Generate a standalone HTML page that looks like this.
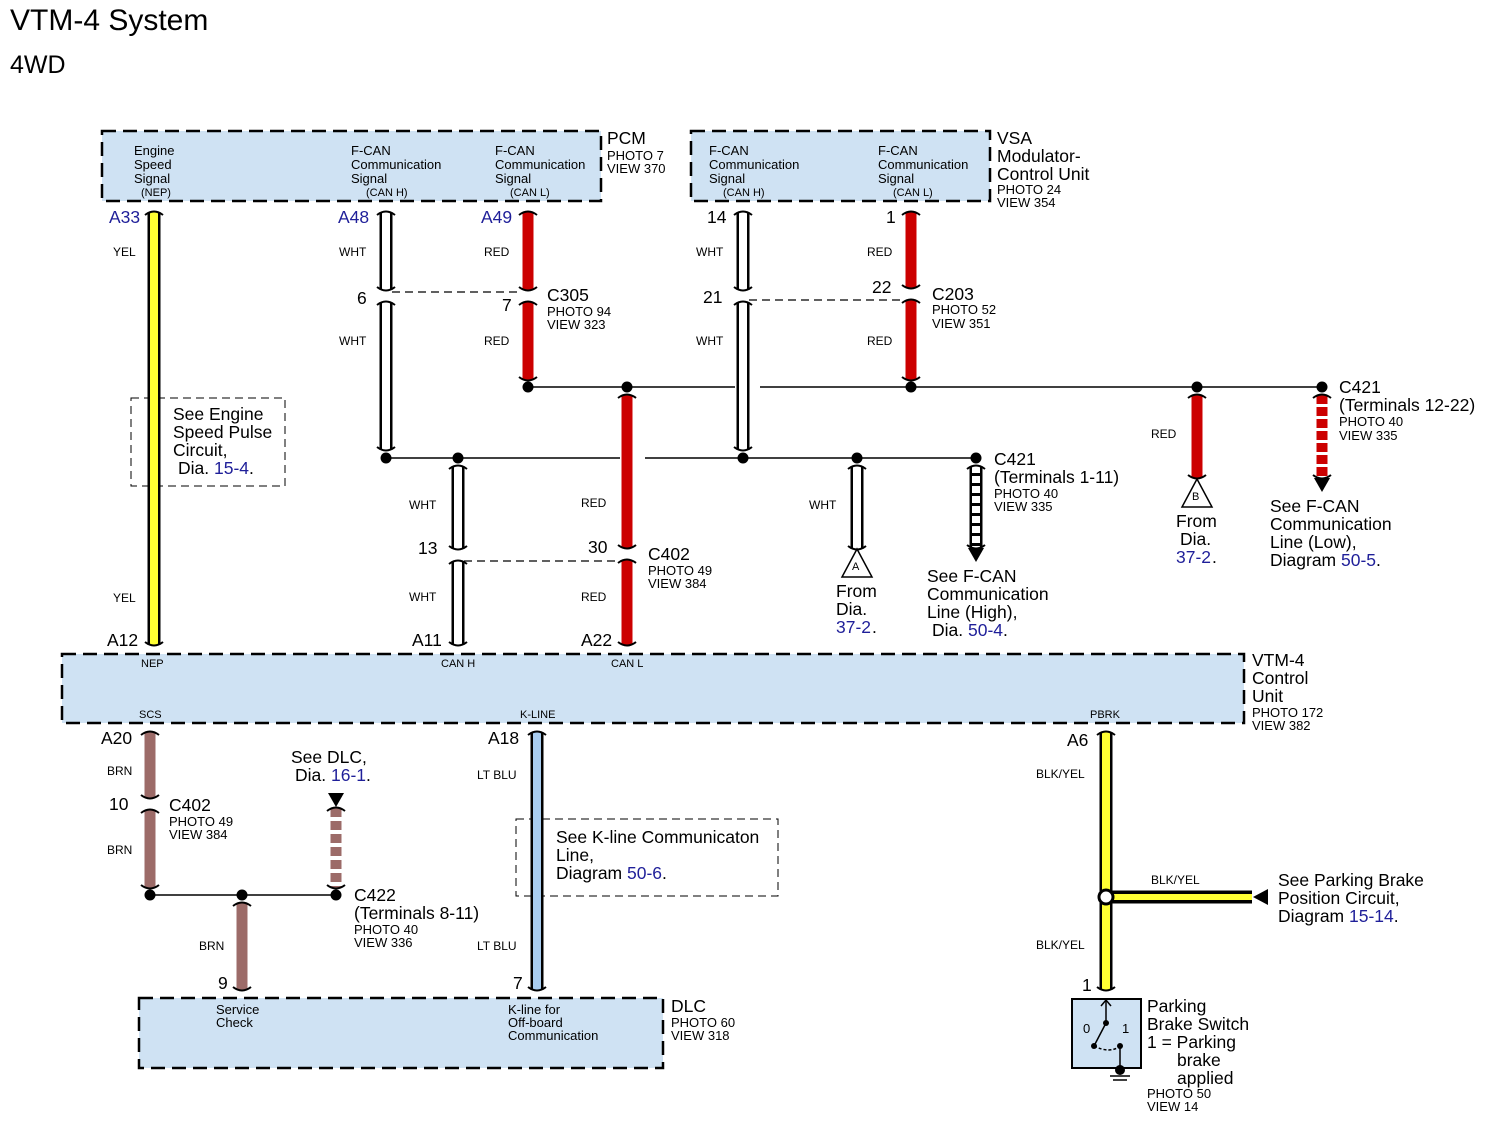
<!DOCTYPE html>
<html><head><meta charset="utf-8"><style>
html,body{margin:0;padding:0;background:#fff}
svg{display:block}
text{font-family:"Liberation Sans",sans-serif;fill:#000}
.b{fill:#1f1f99}
.s{font-size:13px}
.m{font-size:11px}
.t{font-size:17.5px}
.p{font-size:13px;fill:#1f1f99}
.w{font-size:12px}
</style></head><body>
<svg width="1486" height="1127" viewBox="0 0 1486 1127" xmlns="http://www.w3.org/2000/svg">
<text x="10" y="30" style="font-size:30px">VTM-4 System</text>
<text x="10" y="73" style="font-size:25px">4WD</text>

<g fill="#cfe2f3" stroke="#000" stroke-width="2.5" stroke-dasharray="14,7">
<rect x="102" y="131" width="499" height="70"/>
<rect x="691" y="131" width="299" height="70"/>
<rect x="62" y="654" width="1182" height="69"/>
<rect x="139" y="998" width="524" height="70"/>
</g>
<g fill="none" stroke="#000" stroke-width="1" stroke-dasharray="8,5">
<rect x="131" y="398" width="154" height="88"/>
<rect x="516" y="819" width="262" height="77"/>
</g>
<rect x="1072" y="999" width="69" height="69" fill="#cfe2f3" stroke="#000" stroke-width="2"/>

<g stroke="#000" stroke-width="1.5" fill="none">
<line x1="386" y1="458" x2="620" y2="458"/><line x1="645" y1="458" x2="976" y2="458"/>
<line x1="528" y1="387" x2="735" y2="387"/><line x1="760" y1="387" x2="1322" y2="387"/>
<line x1="150" y1="895" x2="336" y2="895"/>
</g>
<g stroke="#000" stroke-width="1.3" stroke-dasharray="8,5">
<line x1="392" y1="292" x2="522" y2="292"/>
<line x1="749" y1="300" x2="905" y2="300"/>
<line x1="464" y1="561" x2="621" y2="561"/>
</g>

<g id="wires"></g>

<g fill="#000">
<circle cx="386" cy="458" r="5.5"/><circle cx="458" cy="458" r="5.5"/><circle cx="743" cy="458" r="5.5"/><circle cx="857" cy="458" r="5.5"/><circle cx="976" cy="458" r="5.5"/>
<circle cx="528" cy="387" r="5.5"/><circle cx="627" cy="387" r="5.5"/><circle cx="911" cy="387" r="5.5"/><circle cx="1197" cy="387" r="5.5"/><circle cx="1322" cy="387" r="5.5"/>
<circle cx="150" cy="895" r="5.5"/><circle cx="242" cy="895" r="5.5"/><circle cx="336" cy="895" r="5.5"/>
<polygon points="968,548 984,548 976,562"/>
<polygon points="1314,478 1330,478 1322,492"/>
<polygon points="328,793 344,793 336,807"/>
<polygon points="1253,897 1268,889 1268,905"/>
</g>
<g fill="#fff" stroke="#000" stroke-width="1.5">
<polygon points="857,549 842,577 872,577"/>
<polygon points="1197,479 1182,507 1212,507"/>
<circle cx="1106" cy="897" r="7" stroke-width="3"/>
</g>
<text x="852" y="570" class="m">A</text><text x="1192" y="500" class="m">B</text>

<g stroke="#000" stroke-width="1.5" fill="none">
<line x1="1106" y1="1000" x2="1106" y2="1023"/><polyline points="1101,1006 1106,1000 1111,1006"/>
<line x1="1106" y1="1023" x2="1094" y2="1046"/>
<path d="M1094,1046 Q1110,1054 1120,1046" stroke-dasharray="3,2"/>
<line x1="1120" y1="1046" x2="1120" y2="1068"/>
<line x1="1110" y1="1076" x2="1130" y2="1076"/><line x1="1113" y1="1080" x2="1127" y2="1080"/>
</g>
<circle cx="1106" cy="1023" r="3"/><circle cx="1094" cy="1046" r="3"/><circle cx="1120" cy="1046" r="3"/><circle cx="1120" cy="1070" r="5"/>
<text x="1083" y="1033" class="s">0</text><text x="1122" y="1033" class="s">1</text>

<g class="s">
<text x="134" y="155">Engine</text><text x="134" y="169">Speed</text><text x="134" y="183">Signal</text><text x="141" y="196" class="m">(NEP)</text>
<text x="351" y="155">F-CAN</text><text x="351" y="169">Communication</text><text x="351" y="183">Signal</text><text x="366" y="196" class="m">(CAN H)</text>
<text x="495" y="155">F-CAN</text><text x="495" y="169">Communication</text><text x="495" y="183">Signal</text><text x="510" y="196" class="m">(CAN L)</text>
<text x="709" y="155">F-CAN</text><text x="709" y="169">Communication</text><text x="709" y="183">Signal</text><text x="723" y="196" class="m">(CAN H)</text>
<text x="878" y="155">F-CAN</text><text x="878" y="169">Communication</text><text x="878" y="183">Signal</text><text x="893" y="196" class="m">(CAN L)</text>
<text x="216" y="1014">Service</text><text x="216" y="1027">Check</text>
<text x="508" y="1014">K-line for</text><text x="508" y="1027">Off-board</text><text x="508" y="1040">Communication</text>
</g>
<g class="m">
<text x="141" y="667">NEP</text><text x="441" y="667">CAN H</text><text x="611" y="667">CAN L</text>
<text x="139" y="718">SCS</text><text x="520" y="718">K-LINE</text><text x="1090" y="718">PBRK</text>
</g>

<g class="t">
<text x="607" y="144">PCM</text>
<text x="997" y="144">VSA</text><text x="997" y="162">Modulator-</text><text x="997" y="180">Control Unit</text>
<text x="1252" y="666">VTM-4</text><text x="1252" y="684">Control</text><text x="1252" y="702">Unit</text>
<text x="671" y="1012">DLC</text>
<text x="1147" y="1012">Parking</text><text x="1147" y="1030">Brake Switch</text><text x="1147" y="1048">1 = Parking</text><text x="1177" y="1066">brake</text><text x="1177" y="1084">applied</text>
<text x="547" y="301">C305</text><text x="932" y="300">C203</text><text x="648" y="560">C402</text><text x="169" y="811">C402</text>
<text x="354" y="901">C422</text><text x="354" y="919">(Terminals 8-11)</text>
<text x="994" y="465">C421</text><text x="994" y="483">(Terminals 1-11)</text>
<text x="1339" y="393">C421</text><text x="1339" y="411">(Terminals 12-22)</text>
<text x="173" y="420">See Engine</text><text x="173" y="438">Speed Pulse</text><text x="173" y="456">Circuit,</text><text x="178" y="474">Dia. <tspan class="b">15-4</tspan>.</text>
<text x="556" y="843">See K-line Communicaton</text><text x="556" y="861">Line,</text><text x="556" y="879">Diagram <tspan class="b">50-6</tspan>.</text>
<text x="291" y="763">See DLC,</text><text x="295" y="781">Dia. <tspan class="b">16-1</tspan>.</text>
<text x="836" y="597">From</text><text x="836" y="615">Dia.</text><text x="836" y="633" class="b">37-2</text><text x="872" y="633">.</text>
<text x="1176" y="527">From</text><text x="1180" y="545">Dia.</text><text x="1176" y="563" class="b">37-2</text><text x="1212" y="563">.</text>
<text x="927" y="582">See F-CAN</text><text x="927" y="600">Communication</text><text x="927" y="618">Line (High),</text><text x="932" y="636">Dia. <tspan class="b">50-4</tspan>.</text>
<text x="1270" y="512">See F-CAN</text><text x="1270" y="530">Communication</text><text x="1270" y="548">Line (Low),</text><text x="1270" y="566">Diagram <tspan class="b">50-5</tspan>.</text>
<text x="1278" y="886">See Parking Brake</text><text x="1278" y="904">Position Circuit,</text><text x="1278" y="922">Diagram <tspan class="b">15-14</tspan>.</text>
<text x="109" y="223" class="b">A33</text><text x="338" y="223" class="b">A48</text><text x="481" y="223" class="b">A49</text>
<text x="707" y="223">14</text><text x="886" y="223">1</text>
<text x="357" y="304">6</text><text x="502" y="311">7</text><text x="703" y="303">21</text><text x="872" y="293">22</text>
<text x="418" y="554">13</text><text x="588" y="553">30</text>
<text x="107" y="646">A12</text><text x="412" y="646">A11</text><text x="581" y="646">A22</text>
<text x="101" y="744">A20</text><text x="488" y="744">A18</text><text x="1067" y="746">A6</text>
<text x="109" y="810">10</text><text x="218" y="989">9</text><text x="513" y="989">7</text><text x="1082" y="991">1</text>
</g>
<g class="p">
<text x="607" y="160">PHOTO 7</text><text x="607" y="173">VIEW 370</text>
<text x="997" y="194">PHOTO 24</text><text x="997" y="207">VIEW 354</text>
<text x="547" y="316">PHOTO 94</text><text x="547" y="329">VIEW 323</text>
<text x="932" y="314">PHOTO 52</text><text x="932" y="328">VIEW 351</text>
<text x="648" y="575">PHOTO 49</text><text x="648" y="588">VIEW 384</text>
<text x="169" y="826">PHOTO 49</text><text x="169" y="839">VIEW 384</text>
<text x="354" y="934">PHOTO 40</text><text x="354" y="947">VIEW 336</text>
<text x="994" y="498">PHOTO 40</text><text x="994" y="511">VIEW 335</text>
<text x="1339" y="426">PHOTO 40</text><text x="1339" y="440">VIEW 335</text>
<text x="1252" y="717">PHOTO 172</text><text x="1252" y="730">VIEW 382</text>
<text x="671" y="1027">PHOTO 60</text><text x="671" y="1040">VIEW 318</text>
<text x="1147" y="1098">PHOTO 50</text><text x="1147" y="1111">VIEW 14</text>
</g>
<g class="w">
<text x="113" y="256">YEL</text><text x="113" y="602">YEL</text>
<text x="339" y="256">WHT</text><text x="339" y="345">WHT</text>
<text x="484" y="256">RED</text><text x="484" y="345">RED</text>
<text x="696" y="256">WHT</text><text x="696" y="345">WHT</text>
<text x="867" y="256">RED</text><text x="867" y="345">RED</text>
<text x="409" y="509">WHT</text><text x="409" y="601">WHT</text>
<text x="581" y="507">RED</text><text x="581" y="601">RED</text>
<text x="809" y="509">WHT</text><text x="1151" y="438">RED</text>
<text x="107" y="775">BRN</text><text x="107" y="854">BRN</text><text x="199" y="950">BRN</text>
<text x="477" y="779">LT BLU</text><text x="477" y="950">LT BLU</text>
<text x="1036" y="778">BLK/YEL</text><text x="1036" y="949">BLK/YEL</text><text x="1151" y="884">BLK/YEL</text>
</g>

<script>
(function(){
var NS="http://www.w3.org/2000/svg",g=document.getElementById("wires");
function L(x1,y1,x2,y2,c,w,d){var l=document.createElementNS(NS,"line");l.setAttribute("x1",x1);l.setAttribute("y1",y1);l.setAttribute("x2",x2);l.setAttribute("y2",y2);l.setAttribute("stroke",c);l.setAttribute("stroke-width",w);if(d)l.setAttribute("stroke-dasharray",d);g.appendChild(l);}
function P(d){var p=document.createElementNS(NS,"path");p.setAttribute("d",d);p.setAttribute("stroke","#000");p.setAttribute("stroke-width","2");p.setAttribute("fill","none");g.appendChild(p);}
function cap(x,y,up){
 if(up)P("M"+(x-9)+","+(y-3)+" Q"+x+","+(y+4)+" "+(x+9)+","+(y-3));
 else P("M"+(x-9)+","+(y+3)+" Q"+x+","+(y-4)+" "+(x+9)+","+(y+3));}
function W(x,y1,y2,fill,out,breaks,dash){
 var segs=[],s=y1;(breaks||[]).forEach(function(b){segs.push([s,b-6]);s=b+6;});segs.push([s,y2]);
 segs.forEach(function(sg){
  if(out){L(x,sg[0],x,sg[1],"#000",13);L(x,sg[0],x,sg[1],fill,8,dash);}
  else {L(x,sg[0],x,sg[1],fill,11,dash);}
  cap(x,sg[0],false);cap(x,sg[1],true);
 });}
W(154,212,645,"#ffff33",1);
W(386,212,450,"#fff",1,[296]);
W(528,212,380,"#cc0000",0,[296]);
W(458,466,645,"#fff",1,[555]);
W(627,395,645,"#cc0000",0,[554]);
W(743,212,450,"#fff",1,[296]);
W(911,212,380,"#cc0000",0,[294]);
W(857,466,549,"#fff",1);
W(976,466,548,"#fff",1,null,"7,3");
W(1197,395,478,"#cc0000",0);
W(1322,395,478,"#cc0000",0,null,"9,3");
W(150,732,888,"#9c6b68",0,[804]);
W(336,808,888,"#9c6b68",0,null,"9,4");
W(242,903,990,"#9c6b68",0);
W(537,732,990,"#a9cdf0",1);
W(1106,732,990,"#ffff33",1);
L(1106,897,1252,897,"#000",13);L(1106,897,1252,897,"#ffff33",6);
})();
</script>
</svg>
</body></html>
